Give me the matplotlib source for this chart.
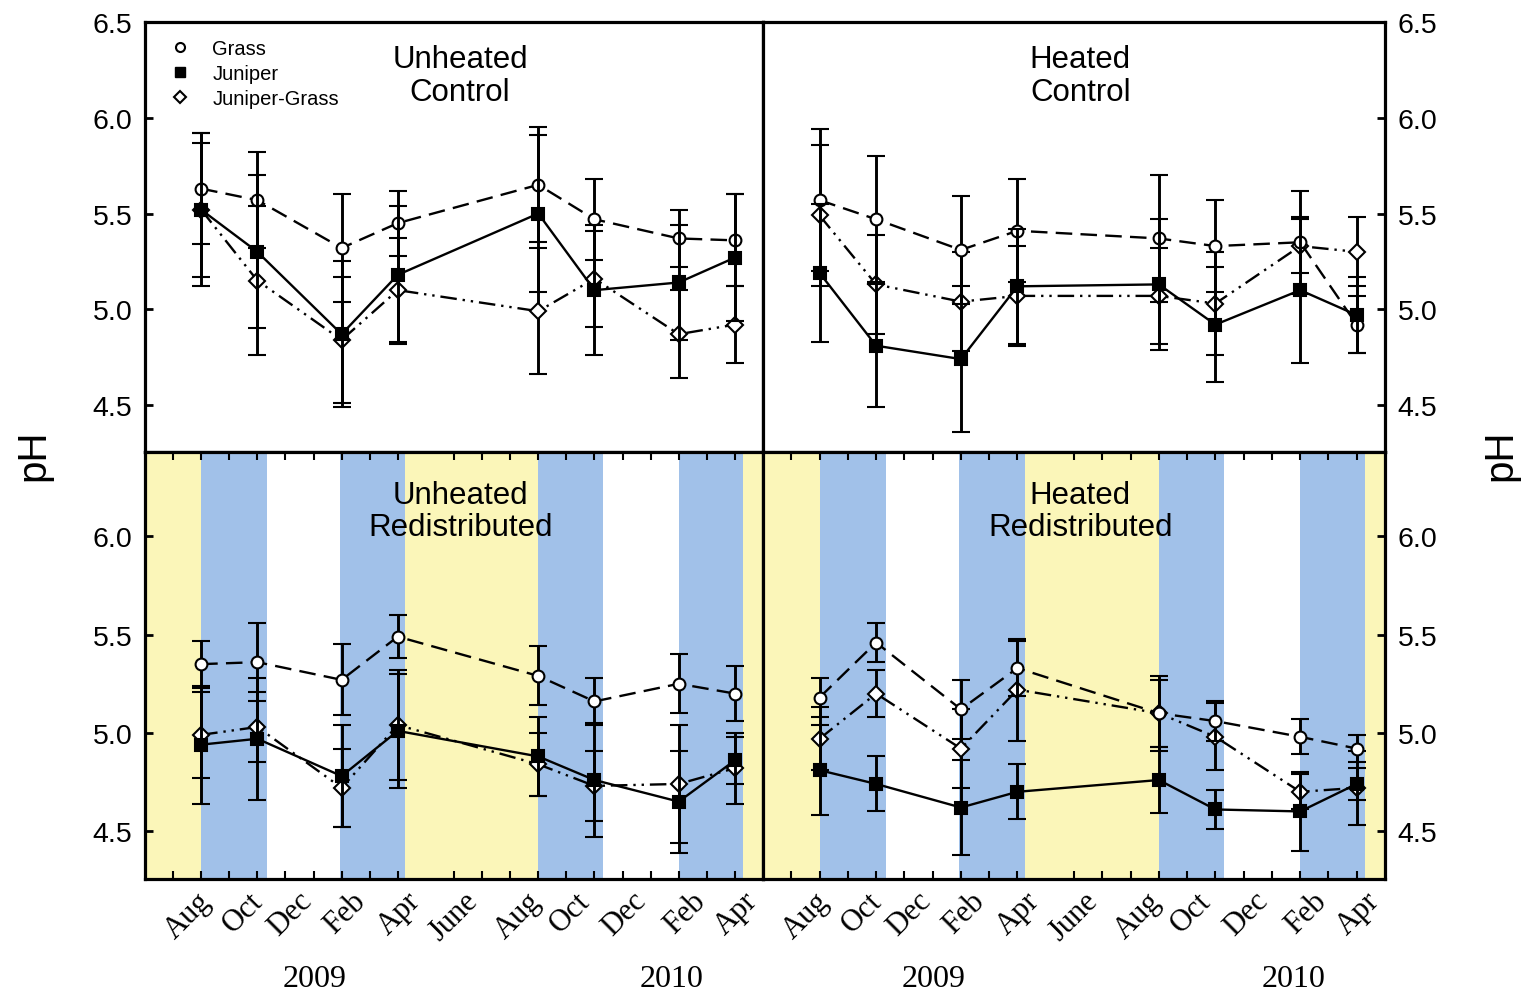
import matplotlib
matplotlib.use("Agg")
import matplotlib.pyplot as plt
from matplotlib.lines import Line2D

plt.rcParams['font.family'] = ['Liberation Sans', 'DejaVu Sans']

# sampling positions (monthly tick units) and labels
x_dates = [1, 3, 6, 8, 13, 15, 18, 20]
month_pos = [1.55, 3.4, 5.15, 7.05, 9.0, 11.05, 13.3, 15.05, 17.05, 19.15, 21.0]
month_labels = ['Aug', 'Oct', 'Dec', 'Feb', 'Apr', 'June', 'Aug', 'Oct', 'Dec', 'Feb', 'Apr']
years = ['2009', '2010']
year_pos = [5.05, 17.75]

# season bands (start, end, kind)
bands = [(-1, 1, 'y'), (1, 3.35, 'b'), (5.95, 8.25, 'b'), (8.25, 13, 'y'),
         (13, 15.3, 'b'), (18, 20.3, 'b'), (20.3, 21, 'y')]

# Unheated Control
uc_grass = [5.63, 5.57, 5.32, 5.45, 5.65, 5.47, 5.37, 5.36]
uc_grass_err = [0.29, 0.25, 0.28, 0.17, 0.30, 0.21, 0.15, 0.24]
uc_jun = [5.52, 5.30, 4.87, 5.18, 5.50, 5.10, 5.14, 5.27]
uc_jun_err = [0.40, 0.40, 0.38, 0.36, 0.41, 0.34, 0.30, 0.33]
uc_jg = [5.52, 5.15, 4.84, 5.10, 4.99, 5.16, 4.87, 4.92]
uc_jg_err = [0.35, 0.39, 0.33, 0.27, 0.33, 0.25, 0.23, 0.20]

# Heated Control
hc_grass = [5.57, 5.47, 5.31, 5.41, 5.37, 5.33, 5.35, 4.92]
hc_grass_err = [0.37, 0.33, 0.28, 0.27, 0.33, 0.24, 0.27, 0.15]
hc_jun = [5.19, 4.81, 4.74, 5.12, 5.13, 4.92, 5.10, 4.97]
hc_jun_err = [0.36, 0.32, 0.38, 0.30, 0.34, 0.30, 0.38, 0.20]
hc_jg = [5.49, 5.13, 5.04, 5.07, 5.07, 5.03, 5.33, 5.30]
hc_jg_err = [0.37, 0.26, 0.26, 0.26, 0.25, 0.27, 0.14, 0.18]

# Unheated Redistributed
ur_grass = [5.35, 5.36, 5.27, 5.49, 5.29, 5.16, 5.25, 5.20]
ur_grass_err = [0.12, 0.20, 0.18, 0.11, 0.15, 0.12, 0.15, 0.14]
ur_jun = [4.94, 4.97, 4.78, 5.01, 4.88, 4.76, 4.65, 4.86]
ur_jun_err = [0.30, 0.31, 0.26, 0.29, 0.20, 0.29, 0.26, 0.12]
ur_jg = [4.99, 5.03, 4.72, 5.04, 4.84, 4.73, 4.74, 4.82]
ur_jg_err = [0.22, 0.18, 0.20, 0.28, 0.16, 0.18, 0.30, 0.18]

# Heated Redistributed
hr_grass = [5.18, 5.46, 5.12, 5.33, 5.10, 5.06, 4.98, 4.92]
hr_grass_err = [0.10, 0.10, 0.15, 0.14, 0.19, 0.10, 0.09, 0.07]
hr_jun = [4.81, 4.74, 4.62, 4.70, 4.76, 4.61, 4.60, 4.74]
hr_jun_err = [0.23, 0.14, 0.24, 0.14, 0.17, 0.10, 0.20, 0.08]
hr_jg = [4.97, 5.20, 4.92, 5.22, 5.10, 4.98, 4.70, 4.72]
hr_jg_err = [0.16, 0.12, 0.20, 0.26, 0.17, 0.17, 0.09, 0.19]

panels = [
    ('Unheated\nControl', uc_grass, uc_grass_err, uc_jun, uc_jun_err, uc_jg, uc_jg_err),
    ('Heated\nControl', hc_grass, hc_grass_err, hc_jun, hc_jun_err, hc_jg, hc_jg_err),
    ('Unheated\nRedistributed', ur_grass, ur_grass_err, ur_jun, ur_jun_err, ur_jg, ur_jg_err),
    ('Heated\nRedistributed', hr_grass, hr_grass_err, hr_jun, hr_jun_err, hr_jg, hr_jg_err),
]

W, H = 1529, 995
fig = plt.figure(figsize=(W / 100, H / 100), dpi=100)

def box(x0, y0, x1, y1):
    return [x0 / W, 1 - y1 / H, (x1 - x0) / W, (y1 - y0) / H]

rects = [box(145, 23, 763, 453), box(763, 23, 1385, 453),
         box(145, 453, 763, 880), box(763, 453, 1385, 880)]

yellow = '#FBF6B9'
blue = '#A1C1E9'
jg_dash = (0, (7, 2.5, 1, 2.5, 1, 2.5))

for i, (title, g, ge, j, je, jg, jge) in enumerate(panels):
    ax = fig.add_axes(rects[i])
    top = i < 2
    right = i % 2 == 1
    if top:
        ax.set_ylim(4.255, 6.5)
        ax.set_yticks([4.5, 5.0, 5.5, 6.0, 6.5])
    else:
        ax.set_ylim(4.256, 6.43)
        ax.set_yticks([4.5, 5.0, 5.5, 6.0])
        for a, b, kind in bands:
            ax.axvspan(a, b, color=yellow if kind == 'y' else blue, lw=0, zorder=0)

    kw = dict(capsize=6.5, capthick=2, elinewidth=2.1, color='black', mew=1.5, lw=1.7)
    ax.errorbar(x_dates, jg, yerr=jge, marker='D', ms=8, mfc='white', ls=jg_dash, **kw, zorder=3)
    ax.errorbar(x_dates, g, yerr=ge, marker='o', ms=8.5, mfc='white', ls=(0, (7, 3.5)), **kw, zorder=4)
    ax.errorbar(x_dates, j, yerr=je, marker='s', ms=8.5, mfc='black', ls='-', **kw, zorder=5)

    for s in ax.spines.values():
        s.set_linewidth(2.3)

    ax.tick_params(axis='y', direction='in', length=6, width=2, labelsize=20.5,
                   left=not right, right=right, labelleft=not right, labelright=right, pad=9)
    ax.set_yticklabels([f'{v:.1f}' for v in ax.get_yticks()])
    if top:
        ax.set_xticks([])
    else:
        ax.set_xticks(range(0, 21), minor=True)
        ax.set_xticks(month_pos, month_labels, rotation=45, ha='right',
                      fontfamily='Liberation Serif', fontsize=22)
        ax.tick_params(axis='x', which='major', length=0, pad=5)
        ax.tick_params(axis='x', which='minor', direction='in', length=6, width=1.5,
                       top=True, bottom=True)
    ax.set_xlim(-1, 21)
    if not top:
        for yp, yl in zip(year_pos, years):
            ax.text(yp, -0.233, yl, transform=ax.get_xaxis_transform(), ha='center',
                    va='center', fontfamily='Liberation Serif', fontsize=23)

    ax.text(0.51, 0.948 if top else 0.934, title, transform=ax.transAxes, ha='center',
            va='top', fontsize=22.5, linespacing=1.1)

    if i == 0:
        handles = [Line2D([], [], marker='o', ls='none', color='black', mfc='white', ms=6.5, mew=1.5),
                   Line2D([], [], marker='s', ls='none', color='black', mfc='black', ms=6.5),
                   Line2D([], [], marker='D', ls='none', color='black', mfc='white', ms=6.5, mew=1.5)]
        ax.legend(handles, ['Grass', 'Juniper', 'Juniper-Grass'], loc='upper left',
                  bbox_to_anchor=(0.008, 1.002), frameon=False, fontsize=14.5,
                  handlelength=1.2, handletextpad=1.0, labelspacing=0.3)

fig.text(33 / W, 1 - 455 / H, 'pH', rotation=90, ha='center', va='center', fontsize=29)
fig.text(1500 / W, 1 - 455 / H, 'pH', rotation=90, ha='center', va='center', fontsize=29)

fig.savefig('out.png', dpi=100)
